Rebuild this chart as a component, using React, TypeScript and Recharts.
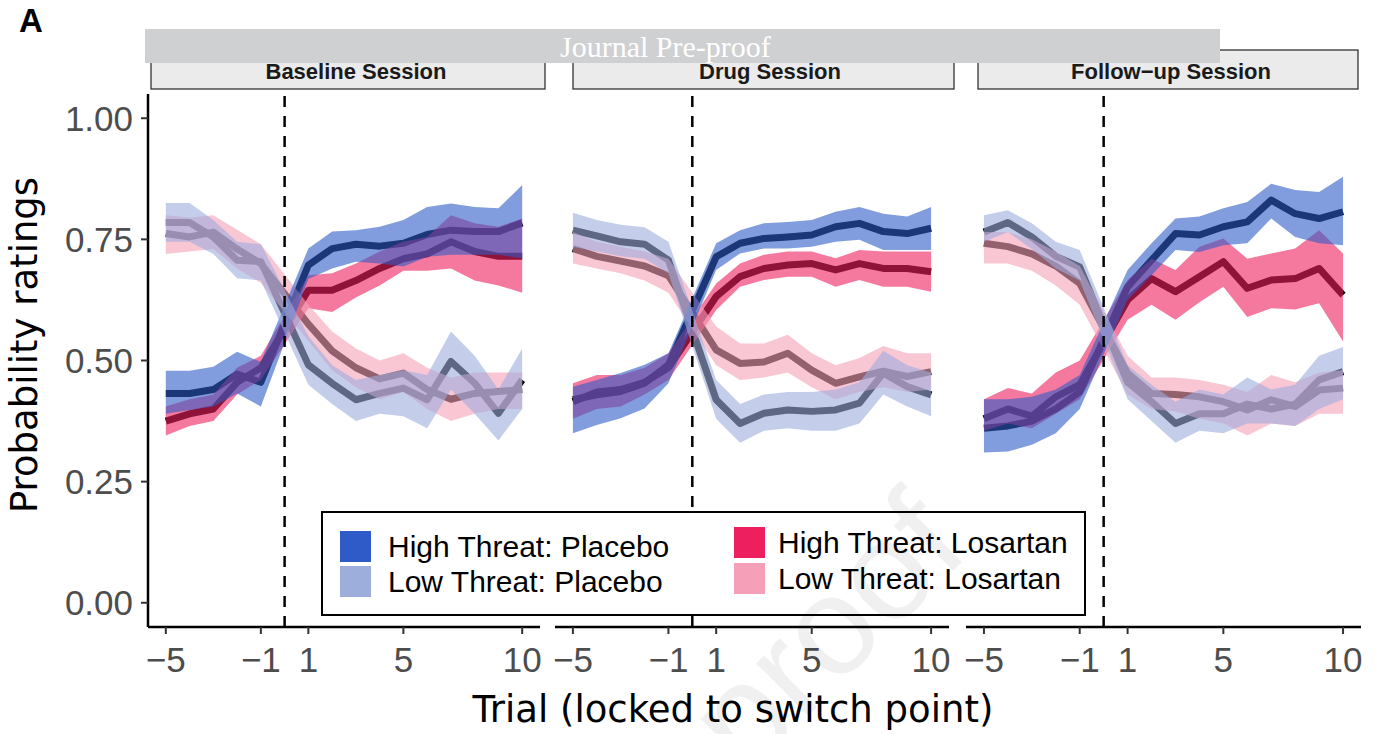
import React from 'react';
import { ComposedChart, Line, Area, XAxis, YAxis, ReferenceLine } from 'recharts';

// ---------- categories / ticks ----------
const trials = [-5, -4, -3, -2, -1, 1, 2, 3, 4, 5, 6, 7, 8, 9, 10];
const xTicks = [-5, -1, 1, 5, 10];
const yTicks = [0, 0.25, 0.5, 0.75, 1];
const sessionLabels = ['Baseline Session', 'Drug Session', 'Follow\u2212up Session'];
const seriesLabels = ['High Threat: Placebo', 'Low Threat: Placebo', 'High Threat: Losartan', 'Low Threat: Losartan'];
const seriesFills = ['#2E5BC8', '#9DAEDD', '#EE1F5F', '#F5A0B8'];

// ---------- Baseline session ----------
const baseHighPlaceboMean = [0.432, 0.432, 0.44, 0.472, 0.455, 0.697, 0.731, 0.74, 0.736, 0.742, 0.76, 0.769, 0.766, 0.766, 0.784];
const baseHighPlaceboLow = [0.39, 0.398, 0.405, 0.432, 0.405, 0.668, 0.69, 0.704, 0.7, 0.694, 0.714, 0.718, 0.718, 0.718, 0.711];
const baseHighPlaceboHigh = [0.479, 0.479, 0.487, 0.518, 0.497, 0.731, 0.766, 0.769, 0.776, 0.79, 0.817, 0.824, 0.817, 0.814, 0.862];
const baseLowPlaceboMean = [0.785, 0.785, 0.755, 0.707, 0.704, 0.491, 0.453, 0.419, 0.432, 0.443, 0.419, 0.498, 0.453, 0.391, 0.46];
const baseLowPlaceboLow = [0.745, 0.745, 0.72, 0.67, 0.665, 0.45, 0.41, 0.375, 0.39, 0.385, 0.36, 0.44, 0.39, 0.335, 0.4];
const baseLowPlaceboHigh = [0.825, 0.825, 0.79, 0.745, 0.74, 0.55, 0.49, 0.46, 0.47, 0.48, 0.47, 0.56, 0.51, 0.44, 0.525];
const baseHighLosartanMean = [0.375, 0.39, 0.4, 0.455, 0.485, 0.645, 0.645, 0.665, 0.69, 0.71, 0.72, 0.745, 0.725, 0.715, 0.715];
const baseHighLosartanLow = [0.345, 0.365, 0.375, 0.43, 0.46, 0.608, 0.6, 0.63, 0.655, 0.685, 0.685, 0.69, 0.665, 0.655, 0.64];
const baseHighLosartanHigh = [0.405, 0.42, 0.43, 0.485, 0.51, 0.676, 0.68, 0.7, 0.725, 0.745, 0.755, 0.8, 0.783, 0.776, 0.793];
const baseLowLosartanMean = [0.762, 0.755, 0.765, 0.73, 0.7, 0.575, 0.52, 0.485, 0.462, 0.474, 0.44, 0.42, 0.432, 0.436, 0.44];
const baseLowLosartanLow = [0.72, 0.725, 0.73, 0.69, 0.66, 0.54, 0.48, 0.445, 0.42, 0.435, 0.4, 0.375, 0.39, 0.4, 0.4];
const baseLowLosartanHigh = [0.8, 0.795, 0.8, 0.77, 0.74, 0.615, 0.56, 0.525, 0.5, 0.515, 0.485, 0.465, 0.475, 0.475, 0.475];

// ---------- Drug session ----------
const drugHighPlaceboMean = [0.419, 0.429, 0.436, 0.453, 0.491, 0.714, 0.742, 0.752, 0.755, 0.759, 0.776, 0.783, 0.766, 0.762, 0.773];
const drugHighPlaceboLow = [0.35, 0.367, 0.381, 0.401, 0.453, 0.687, 0.721, 0.731, 0.731, 0.735, 0.745, 0.749, 0.728, 0.728, 0.728];
const drugHighPlaceboHigh = [0.446, 0.46, 0.474, 0.491, 0.515, 0.742, 0.769, 0.783, 0.786, 0.79, 0.807, 0.817, 0.803, 0.797, 0.817];
const drugLowPlaceboMean = [0.769, 0.757, 0.745, 0.74, 0.707, 0.419, 0.37, 0.391, 0.398, 0.395, 0.398, 0.412, 0.474, 0.446, 0.429];
const drugLowPlaceboLow = [0.735, 0.725, 0.715, 0.71, 0.68, 0.38, 0.33, 0.355, 0.36, 0.355, 0.355, 0.37, 0.43, 0.405, 0.385];
const drugLowPlaceboHigh = [0.805, 0.79, 0.78, 0.775, 0.745, 0.46, 0.41, 0.43, 0.435, 0.435, 0.44, 0.455, 0.52, 0.49, 0.475];
const drugHighLosartanMean = [0.415, 0.435, 0.44, 0.455, 0.485, 0.632, 0.673, 0.69, 0.697, 0.7, 0.687, 0.7, 0.69, 0.69, 0.683];
const drugHighLosartanLow = [0.38, 0.4, 0.405, 0.43, 0.46, 0.604, 0.652, 0.666, 0.673, 0.673, 0.652, 0.666, 0.652, 0.652, 0.642];
const drugHighLosartanHigh = [0.453, 0.47, 0.47, 0.485, 0.515, 0.659, 0.7, 0.718, 0.725, 0.725, 0.711, 0.728, 0.725, 0.725, 0.725];
const drugLowLosartanMean = [0.731, 0.715, 0.705, 0.695, 0.675, 0.522, 0.494, 0.497, 0.515, 0.48, 0.453, 0.466, 0.478, 0.467, 0.477];
const drugLowLosartanLow = [0.7, 0.69, 0.68, 0.665, 0.64, 0.49, 0.46, 0.465, 0.475, 0.445, 0.42, 0.435, 0.445, 0.435, 0.44];
const drugLowLosartanHigh = [0.765, 0.745, 0.735, 0.725, 0.71, 0.57, 0.535, 0.535, 0.553, 0.515, 0.49, 0.505, 0.53, 0.515, 0.515];

// ---------- Follow-up session ----------
const followHighPlaceboMean = [0.36, 0.365, 0.375, 0.4, 0.435, 0.652, 0.707, 0.762, 0.759, 0.776, 0.786, 0.831, 0.803, 0.793, 0.807];
const followHighPlaceboLow = [0.31, 0.312, 0.326, 0.35, 0.4, 0.625, 0.676, 0.728, 0.724, 0.738, 0.742, 0.793, 0.755, 0.742, 0.738];
const followHighPlaceboHigh = [0.42, 0.42, 0.425, 0.44, 0.47, 0.687, 0.742, 0.793, 0.797, 0.814, 0.827, 0.865, 0.852, 0.848, 0.879];
const followLowPlaceboMean = [0.765, 0.785, 0.755, 0.715, 0.693, 0.455, 0.415, 0.37, 0.39, 0.39, 0.41, 0.4, 0.41, 0.46, 0.477];
const followLowPlaceboLow = [0.745, 0.765, 0.73, 0.69, 0.665, 0.42, 0.375, 0.33, 0.355, 0.35, 0.37, 0.37, 0.365, 0.4, 0.42];
const followLowPlaceboHigh = [0.8, 0.81, 0.783, 0.745, 0.728, 0.49, 0.45, 0.415, 0.44, 0.43, 0.465, 0.44, 0.45, 0.51, 0.528];
const followHighLosartanMean = [0.38, 0.4, 0.385, 0.425, 0.45, 0.625, 0.669, 0.642, 0.673, 0.704, 0.649, 0.666, 0.669, 0.69, 0.635];
const followHighLosartanLow = [0.355, 0.37, 0.36, 0.39, 0.42, 0.584, 0.615, 0.584, 0.62, 0.652, 0.59, 0.608, 0.605, 0.618, 0.539];
const followHighLosartanHigh = [0.42, 0.443, 0.432, 0.475, 0.5, 0.666, 0.71, 0.687, 0.735, 0.752, 0.71, 0.721, 0.731, 0.769, 0.721];
const followLowLosartanMean = [0.742, 0.735, 0.72, 0.695, 0.659, 0.474, 0.432, 0.43, 0.425, 0.415, 0.398, 0.419, 0.405, 0.439, 0.443];
const followLowLosartanLow = [0.7, 0.7, 0.685, 0.655, 0.615, 0.43, 0.4, 0.395, 0.38, 0.37, 0.345, 0.37, 0.365, 0.39, 0.39];
const followLowLosartanHigh = [0.765, 0.765, 0.75, 0.725, 0.695, 0.51, 0.465, 0.465, 0.46, 0.45, 0.435, 0.47, 0.455, 0.475, 0.48];

// ---------- tables built from the arrays ----------
type S = { mean: number[]; low: number[]; high: number[] };
const sessionSeries: S[][] = [
  [
    { mean: baseHighPlaceboMean, low: baseHighPlaceboLow, high: baseHighPlaceboHigh },
    { mean: baseLowPlaceboMean, low: baseLowPlaceboLow, high: baseLowPlaceboHigh },
    { mean: baseHighLosartanMean, low: baseHighLosartanLow, high: baseHighLosartanHigh },
    { mean: baseLowLosartanMean, low: baseLowLosartanLow, high: baseLowLosartanHigh },
  ],
  [
    { mean: drugHighPlaceboMean, low: drugHighPlaceboLow, high: drugHighPlaceboHigh },
    { mean: drugLowPlaceboMean, low: drugLowPlaceboLow, high: drugLowPlaceboHigh },
    { mean: drugHighLosartanMean, low: drugHighLosartanLow, high: drugHighLosartanHigh },
    { mean: drugLowLosartanMean, low: drugLowLosartanLow, high: drugLowLosartanHigh },
  ],
  [
    { mean: followHighPlaceboMean, low: followHighPlaceboLow, high: followHighPlaceboHigh },
    { mean: followLowPlaceboMean, low: followLowPlaceboLow, high: followLowPlaceboHigh },
    { mean: followHighLosartanMean, low: followHighLosartanLow, high: followHighLosartanHigh },
    { mean: followLowLosartanMean, low: followLowLosartanLow, high: followLowLosartanHigh },
  ],
];

const keys = ['hp', 'lp', 'hl', 'll'];

function buildRows(series: S[]) {
  return trials.map((t, i) => {
    const row: any = { t };
    series.forEach((s, k) => {
      row[keys[k] + 'M'] = s.mean[i];
      row[keys[k] + 'R'] = [s.low[i], s.high[i]];
    });
    return row;
  });
}

const fmtX = (v: number) => (v < 0 ? '\u2212' + Math.abs(v) : String(v));
const fmtY = (v: number) => v.toFixed(2);

// ribbons are drawn over the black mean lines (losartan first, placebo on top)
const ribbonOrder = [2, 3, 0, 1];

const panelGeom = [
  { left: 0, width: 545, ml: 0, mr: 5, showY: true },
  { left: 535, width: 424, ml: 20, mr: 10, showY: false },
  { left: 946, width: 430, ml: 20, mr: 15, showY: false },
];

const tickStyle = { fontSize: 35, fill: '#4d4d4d', fontFamily: 'Liberation Sans' };

function Panel({ idx }: { idx: number }) {
  const g = panelGeom[idx];
  const rows = buildRows(sessionSeries[idx]);
  return (
    <div style={{ position: 'absolute', left: g.left, top: 0 }}>
      <ComposedChart
        width={g.width}
        height={734}
        data={rows}
        margin={{ top: 94, right: g.mr, bottom: 0, left: g.ml }}
      >
        <XAxis
          dataKey="t"
          type="number"
          domain={[-5.75, 10.75]}
          ticks={xTicks}
          interval={0}
          tickFormatter={fmtX}
          height={107}
          tickSize={7}
          tickMargin={13}
          axisLine={{ stroke: '#000', strokeWidth: 2.5 }}
          tickLine={{ stroke: '#333', strokeWidth: 2 }}
          tick={tickStyle}
        />
        <YAxis
          type="number"
          domain={[-0.05, 1.05]}
          ticks={yTicks}
          interval={0}
          hide={!g.showY}
          width={g.showY ? 148 : 0}
          tickFormatter={fmtY}
          tickSize={7}
          tickMargin={8}
          axisLine={{ stroke: '#000', strokeWidth: 2.5 }}
          tickLine={{ stroke: '#333', strokeWidth: 2 }}
          tick={tickStyle}
        />
        {keys.map((k) => (
          <Line
            key={'l' + k}
            dataKey={k + 'M'}
            type="linear"
            stroke="#000"
            strokeWidth={7}
            strokeLinejoin="round"
            dot={false}
            activeDot={false}
            isAnimationActive={false}
            zIndex={50}
          />
        ))}
        {ribbonOrder.map((k) => (
          <Area
            key={'a' + keys[k]}
            dataKey={keys[k] + 'R'}
            type="linear"
            stroke="none"
            fill={seriesFills[k]}
            fillOpacity={0.6}
            dot={false}
            activeDot={false}
            isAnimationActive={false}
            zIndex={100}
          />
        ))}
        <ReferenceLine x={0} stroke="#000" strokeWidth={2.5} strokeDasharray="11 9" zIndex={700} />
      </ComposedChart>
    </div>
  );
}

const strips = [
  { x: 151, w: 394, tx: 356 },
  { x: 573, w: 381, tx: 770 },
  { x: 978, w: 380, tx: 1171 },
];

const legendItems = [
  { x: 340, y: 531, tx: 388 },
  { x: 340, y: 566, tx: 388 },
  { x: 734, y: 527, tx: 778 },
  { x: 734, y: 563, tx: 778 },
];

export default function App() {
  return (
    <div style={{ position: 'absolute', left: 0, top: 0, width: 1376, height: 734, background: '#fff', overflow: 'hidden' }}>
      {[0, 1, 2].map((i) => (
        <Panel key={i} idx={i} />
      ))}
      <svg width={1376} height={734} style={{ position: 'absolute', left: 0, top: 0, pointerEvents: 'none' }}>
        <text x={19} y={32} fontFamily="Liberation Sans" fontWeight="bold" fontSize={33} fill="#000">A</text>
        {strips.map((s, i) => (
          <g key={i}>
            <rect x={s.x} y={50} width={s.w} height={39} fill="#ebebeb" stroke="#333" strokeWidth={1.3} />
            <text x={s.tx} y={79} textAnchor="middle" fontFamily="Liberation Sans" fontWeight="bold" fontSize={22} fill="#1a1a1a">
              {sessionLabels[i]}
            </text>
          </g>
        ))}
        <rect x={145} y={29} width={1075} height={34} fill="#cfd0d2" />
        <text x={560} y={57} fontFamily="Liberation Serif" fontSize={30} fill="#fff">Journal Pre-proof</text>
        <text x={733} y={722} textAnchor="middle" fontFamily="DejaVu Sans" fontSize={37} fill="#000">
          Trial (locked to switch point)
        </text>
        <text
          x={37}
          y={345}
          textAnchor="middle"
          transform="rotate(-90 37 345)"
          fontFamily="DejaVu Sans"
          fontSize={37}
          fill="#000"
        >
          Probability ratings
        </text>
      </svg>
      <div
        style={{
          position: 'absolute',
          left: 321,
          top: 511,
          width: 765,
          height: 105,
          boxSizing: 'border-box',
          border: '2px solid #000',
          background: '#fff',
        }}
      />
      <svg width={1376} height={734} style={{ position: 'absolute', left: 0, top: 0, pointerEvents: 'none' }}>
        {legendItems.map((it, i) => (
          <g key={i}>
            <rect x={it.x} y={it.y} width={31} height={31} fill={seriesFills[i]} />
            <text x={it.tx} y={it.y + 26} fontFamily="Liberation Sans" fontSize={30} fill="#000">
              {seriesLabels[i]}
            </text>
          </g>
        ))}
        <text
          x={972}
          y={552}
          textAnchor="end"
          transform="rotate(-45 972 552)"
          fontFamily="Liberation Sans"
          fontSize={140}
          fill="#000"
          fillOpacity={0.06}
        >
          Journal Pre-proof
        </text>
      </svg>
    </div>
  );
}
